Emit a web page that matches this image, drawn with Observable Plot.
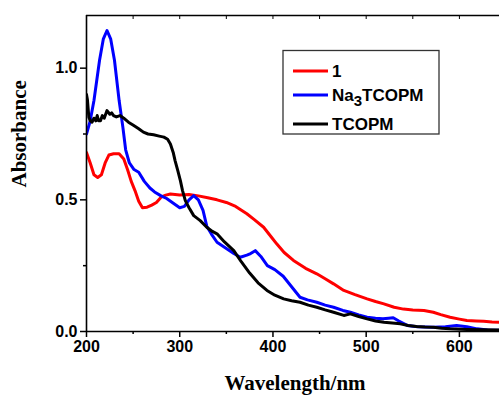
<!DOCTYPE html>
<html>
<head>
<meta charset="utf-8">
<script src="https://cdn.jsdelivr.net/npm/d3@7"></script>
<script src="https://cdn.jsdelivr.net/npm/@observablehq/plot@0.6"></script>
<style>
  html, body { margin: 0; padding: 0; background: #fff; }
  #chart { position: relative; width: 499px; height: 399px; }
</style>
</head>
<body>
<div id="chart"></div>
<script>
// ---- Data ----
const seriesNames = ["1", "Na3TCOPM", "TCOPM"];
const seriesColors = ["#ff0000", "#0000ff", "#000000"];

const red_wl = [200,204,208,212,216,220,224,229,235,240,244,248,252,256,260,265,270,275,280,285,290,300,310,320,330,340,350,360,372,380,390,398,404,412,422,435,447,456,465,476,488,501,510,519,530,540,550,562,572,580,590,600,608,618,626,635,645];
const red_abs = [0.68,0.64,0.595,0.585,0.595,0.64,0.67,0.675,0.675,0.655,0.615,0.57,0.535,0.495,0.47,0.472,0.48,0.49,0.51,0.518,0.522,0.518,0.52,0.515,0.508,0.5,0.49,0.475,0.447,0.425,0.396,0.36,0.333,0.3,0.27,0.24,0.219,0.2,0.181,0.156,0.14,0.124,0.114,0.105,0.092,0.085,0.082,0.08,0.073,0.064,0.054,0.047,0.042,0.04,0.039,0.036,0.035];

const blue_wl = [200,204,208,214,218,222,226,230,235,239,242,246,251,256,262,268,273,280,286,292,300,305,310,315,320,325,329,334,340,350,358,365,372,376,381,387,394,402,411,420,429,437,447,456,465,475,483,492,501,510,518,524,529,535,544,555,572,585,597,608,619,630,645];
const blue_abs = [0.75,0.8,0.877,1.03,1.11,1.143,1.11,1.03,0.877,0.776,0.69,0.64,0.615,0.605,0.57,0.545,0.53,0.515,0.505,0.49,0.47,0.475,0.5,0.516,0.5,0.46,0.4,0.37,0.339,0.315,0.296,0.282,0.29,0.296,0.307,0.285,0.25,0.235,0.21,0.17,0.13,0.12,0.111,0.1,0.092,0.08,0.073,0.063,0.054,0.05,0.048,0.05,0.052,0.04,0.023,0.018,0.016,0.018,0.023,0.018,0.01,0.006,0.004];

const black_wl = [200,201,202.5,204,206,208,210,211.5,213,215,217,219,222,225,227,229,232,236,240,245,250.7,256,261,266,272,278,283,287,290,293,295,298,300.7,303,306,310,315,322,329,335,340,348,358,366,375,384,393.6,402,411.5,420,429,438,447,456,465,476,483,492,501,510,519,528,536.5,545,554,563,572,581,590,608,626,645];
const black_abs = [0.9,0.88,0.814,0.8,0.795,0.81,0.8,0.82,0.8,0.8,0.82,0.81,0.839,0.825,0.83,0.82,0.815,0.82,0.81,0.795,0.782,0.77,0.757,0.75,0.747,0.742,0.738,0.73,0.712,0.68,0.649,0.61,0.573,0.535,0.497,0.47,0.44,0.421,0.396,0.38,0.371,0.34,0.307,0.265,0.222,0.185,0.156,0.138,0.124,0.117,0.111,0.1,0.092,0.082,0.073,0.061,0.067,0.057,0.048,0.04,0.035,0.032,0.029,0.023,0.019,0.017,0.016,0.012,0.01,0.008,0.007,0.005];

const xMajorTicks = [200, 300, 400, 500, 600];
const xMinorTicks = [250, 350, 450, 550];
const yMajorTicks = [0.0, 0.5, 1.0];
const yMinorTicks = [0.25, 0.75];

const xTitle = "Wavelength/nm";
const yTitle = "Absorbance";

// ---- Build table ----
const rows = [];
[[red_wl, red_abs], [blue_wl, blue_abs], [black_wl, black_abs]].forEach(([wl, ab], i) => {
  wl.forEach((w, j) => rows.push({series: seriesNames[i], wl: w, abs: ab[j]}));
});

const tickFont = "'Liberation Sans', Arial, sans-serif";
const titleFont = "'Liberation Serif', 'Times New Roman', serif";

const plot = Plot.plot({
  width: 499,
  height: 399,
  marginLeft: 86,
  marginRight: 0,
  marginTop: 15,
  marginBottom: 68,
  style: {background: "#fff", overflow: "visible"},
  x: {domain: [200, 643]},
  y: {domain: [0, 1.2]},
  color: {domain: seriesNames, range: seriesColors},
  marks: [
    Plot.lineY(rows, {x: "wl", y: "abs", stroke: "series", strokeWidth: 3, clip: true, curve: "linear"}),
    // frame lines
    Plot.ruleY([0], {stroke: "#000", strokeWidth: 1.6}),
    Plot.ruleY([1.2], {stroke: "#000", strokeWidth: 1.6}),
    Plot.ruleX([200], {stroke: "#000", strokeWidth: 1.6}),
    // axes
    Plot.axisX({ticks: xMajorTicks, tickSize: 6, tickPadding: 3, tickFormat: d => String(d),
      fontSize: 16, fontWeight: "bold", fontFamily: tickFont, label: null, strokeWidth: 1.5}),
    Plot.axisX({ticks: xMinorTicks, tickSize: 3, tickFormat: () => "", label: null, strokeWidth: 1.5}),
    Plot.axisX({anchor: "top", ticks: xMajorTicks.concat(xMinorTicks), tickSize: -3, tickFormat: () => "", label: null, strokeWidth: 1}),
    Plot.axisY({ticks: yMajorTicks, tickSize: 6, tickPadding: 3, tickFormat: d => d.toFixed(1),
      fontSize: 16, fontWeight: "bold", fontFamily: tickFont, label: null, strokeWidth: 1.5}),
    Plot.axisY({ticks: yMinorTicks, tickSize: 3, tickFormat: () => "", label: null, strokeWidth: 1.5}),
    // axis titles
    Plot.text([xTitle], {frameAnchor: "bottom", dx: 2, dy: 52, text: d => d, fontSize: 21, fontWeight: "bold",
      fontFamily: titleFont, fill: "#000", lineAnchor: "middle"}),
    Plot.text([yTitle], {frameAnchor: "left", dx: -67, dy: 14, rotate: -90, text: d => d, fontSize: 21, fontWeight: "bold",
      fontFamily: titleFont, fill: "#000"})
  ]
});

document.getElementById("chart").appendChild(plot);

// ---- Legend (drawn into the same SVG) ----
const svg = d3.select(plot);
const lg = svg.append("g").attr("class", "legend").attr("text-anchor", "start");
lg.append("rect").attr("x", 283).attr("y", 50.5).attr("width", 156).attr("height", 83.5)
  .attr("fill", "#fff").attr("stroke", "#333").attr("stroke-width", 1.3);
const legendY = [71, 95, 124];
seriesNames.forEach((name, i) => {
  lg.append("line").attr("x1", 293).attr("x2", 328).attr("y1", legendY[i]).attr("y2", legendY[i])
    .attr("stroke", seriesColors[i]).attr("stroke-width", 3);
  const t = lg.append("text").attr("x", 332).attr("y", legendY[i]).attr("dy", "0.36em")
    .attr("text-anchor", "start")
    .attr("font-family", tickFont).attr("font-weight", "bold").attr("font-size", 17).attr("fill", "#000");
  if (name === "Na3TCOPM") {
    t.append("tspan").text("Na");
    t.append("tspan").attr("dy", 5).attr("font-size", 15).text("3");
    t.append("tspan").attr("dy", -5).text("TCOPM");
  } else {
    t.text(name);
  }
});
</script>
</body>
</html>
